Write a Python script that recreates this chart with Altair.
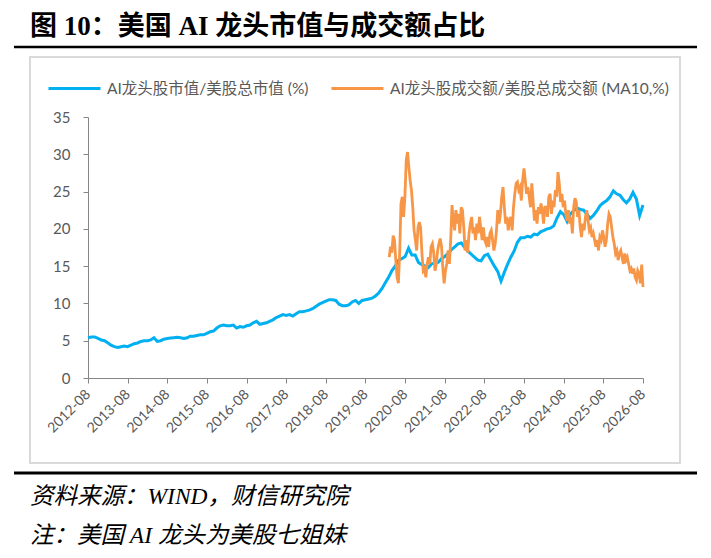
import altair as alt
import pandas as pd

TITLE = "图 10：美国 AI 龙头市值与成交额占比"
SOURCE = "资料来源：WIND，财信研究院"
NOTE = "注：美国 AI 龙头为美股七姐妹"
S_CAP = "AI龙头股市值/美股总市值 (%)"
S_VOL = "AI龙头股成交额/美股总成交额 (MA10,%)"

# monthly, 2012-08 .. 2026-08
cap_values = [
    5.4, 5.5, 5.5, 5.3, 5.1, 5.0, 4.7, 4.4, 4.2, 4.1, 4.2, 4.3, 4.2, 4.4, 4.6, 4.7,
    4.9, 5.0, 5.0, 5.1, 5.4, 4.9, 5.0, 5.2, 5.3, 5.35, 5.4, 5.45, 5.4, 5.3, 5.4, 5.6,
    5.6, 5.7, 5.8, 5.8, 6.0, 6.2, 6.3, 6.7, 7.0, 7.1, 7.0, 7.0, 7.1, 6.7, 6.9, 6.8,
    7.0, 7.1, 7.4, 7.6, 7.2, 7.3, 7.4, 7.6, 7.8, 8.1, 8.3, 8.5, 8.4, 8.5, 8.3, 8.6,
    8.9, 8.9, 9.0, 9.1, 9.3, 9.6, 9.9, 10.1, 10.3, 10.5, 10.5, 10.4, 9.9, 9.7, 9.7, 9.8,
    10.2, 10.4, 10.0, 10.4, 10.5, 10.6, 10.7, 11.0, 11.4, 12.0, 12.8, 13.5, 14.4, 15.0, 15.8, 16.0,
    16.3, 17.4, 16.5, 16.5, 15.5, 15.2, 15.0, 14.8, 15.3, 15.4, 15.5, 16.0, 16.3, 16.7, 17.2, 17.6,
    18.0, 18.1, 17.5, 17.0, 16.6, 16.2, 15.8, 15.7, 16.4, 16.6, 15.8, 15.0, 14.3, 13.0, 14.2, 15.2,
    16.2, 17.0, 18.2, 18.8, 18.8, 19.0, 18.9, 19.3, 19.2, 19.6, 19.8, 20.0, 20.1, 20.4, 21.5, 22.3,
    21.9, 21.0, 22.0, 22.4, 22.8, 22.6, 22.5, 22.0, 21.4, 21.8, 22.4, 23.1, 23.5, 23.8, 24.3, 25.1,
    24.7, 24.5, 23.9, 23.5, 24.0, 24.9, 24.0, 21.8, 23.2,
]

# 10-day moving average, roughly every 12 days, 2020-03 .. 2026-08
vol_values = [
    16.2, 17.6, 16.8, 19.1, 18.5, 15.8, 13.5, 12.7, 16.8, 23.4, 24.3, 21.6, 24.3, 29.2, 30.3, 28.3,
    26.5, 25.2, 22.9, 19.8, 18.5, 17.1, 20.2, 20.9, 20.2, 16.8, 14.4, 14.7, 13.5, 15.3, 16.2, 15.3,
    17.6, 18.0, 16.8, 14.4, 15.3, 17.1, 18.0, 18.7, 17.6, 14.7, 12.7, 14.4, 15.3, 17.1, 15.3, 18.5,
    23.2, 21.1, 19.8, 22.5, 20.7, 22.0, 19.4, 22.9,
    22.5, 20.2, 17.1, 18.5, 16.8, 19.4, 20.7, 21.6, 19.4, 20.2, 18.5, 20.7, 19.4, 21.6, 20.2, 18.5,
    20.2, 18.5, 18.0, 18.9, 17.6, 19.4, 19.8, 18.5, 17.1, 18.0, 19.8, 22.5, 20.7, 22.0, 24.3, 25.6,
    22.9, 20.7, 21.6, 19.8, 21.1, 21.6, 19.8, 22.9, 24.7, 26.1, 26.3, 25.2, 25.6, 23.8, 26.5, 28.1,
    26.5, 24.7, 25.6, 24.3, 22.9, 26.1, 23.8, 21.1, 22.5, 20.7, 22.9, 22.0, 23.4, 22.5, 20.7, 22.9,
    22.9, 21.6, 24.3, 24.7, 22.0, 23.8, 22.9, 25.2, 24.3, 27.6, 26.1, 23.6, 24.7, 22.9, 23.8, 22.0,
    21.1, 22.5, 20.7, 21.6, 19.4, 22.9, 24.1, 23.6, 21.6, 22.5, 20.2, 18.9, 20.7, 19.8, 21.6, 22.5,
    21.1, 19.8, 20.2, 18.9, 19.4, 18.5, 17.6, 18.5, 17.1, 18.9, 18.5, 19.8, 18.9, 17.6, 18.5, 20.7,
    22.0, 21.6, 20.2, 18.9, 18.0, 16.7, 17.1, 15.8, 16.7, 17.1, 16.2, 15.3, 16.7, 15.8, 16.2, 15.3,
    14.4, 14.7, 14.0, 14.7, 13.5, 13.1, 14.4, 14.0, 12.7, 15.2, 12.2,
]

tick_years = list(range(2012, 2027))
y_ticks = [0, 5, 10, 15, 20, 25, 30, 35]

cap_df = pd.DataFrame({
    "date": pd.date_range("2012-08-01", periods=len(cap_values), freq="MS"),
    "value": cap_values,
    "series": S_CAP,
})
vol_df = pd.DataFrame({
    "date": pd.date_range("2020-03-07", "2026-08-01", periods=len(vol_values)),
    "value": vol_values,
    "series": S_VOL,
})

BLUE = "#00B0F0"
ORANGE = "#F79646"
AXIS_GRAY = "#868686"
LABEL_GRAY = "#595959"
NUM_FONT = "Lato, Noto Sans CJK SC"
SERIF = "Liberation Serif, Noto Sans CJK SC"

x_enc = alt.X(
    "date:T",
    scale=alt.Scale(domain=[alt.DateTime(year=2012, month=8, date=1),
                            alt.DateTime(year=2026, month=8, date=1)]),
    axis=alt.Axis(
        title=None, grid=False,
        values=[alt.DateTime(year=y, month=8, date=1) for y in tick_years],
        format="%Y-%m", labelAngle=315, labelAlign="right", labelBaseline="middle",
        labelPadding=9, tickSize=5, labelFontSize=14, labelFont=NUM_FONT,
        labelColor=LABEL_GRAY, domainColor=AXIS_GRAY, tickColor=AXIS_GRAY,
        labelOverlap=False, labelFlush=False,
    ),
)
y_enc = alt.Y(
    "value:Q",
    scale=alt.Scale(domain=[0, 35], nice=False),
    axis=alt.Axis(
        title=None, grid=False, values=y_ticks, tickSize=5, labelPadding=13,
        labelFontSize=15, labelFont=NUM_FONT, labelColor=LABEL_GRAY,
        domainColor=AXIS_GRAY, tickColor=AXIS_GRAY,
    ),
)
color_enc = alt.Color(
    "series:N",
    scale=alt.Scale(domain=[S_CAP, S_VOL], range=[BLUE, ORANGE]),
    legend=alt.Legend(
        orient="none", legendX=-41, legendY=-56, direction="horizontal", title=None,
        symbolType="stroke", symbolSize=2704, symbolStrokeWidth=3,
        labelFont=NUM_FONT, labelFontSize=15.5, labelColor=LABEL_GRAY,
        labelOffset=5, columnPadding=16, labelLimit=400,
    ),
)

cap_line = alt.Chart(cap_df).mark_line(strokeWidth=3).encode(x=x_enc, y=y_enc, color=color_enc)
vol_line = alt.Chart(vol_df).mark_line(strokeWidth=2.8).encode(x=x_enc, y=y_enc, color=color_enc)

one = pd.DataFrame({"t": [""]})

frame = alt.Chart(one).mark_rect(fillOpacity=0, stroke="#D9D9D9", strokeWidth=2).encode(
    x=alt.value(-58), x2=alt.value(592), y=alt.value(-60), y2=alt.value(346))
top_rule = alt.Chart(one).mark_rule(color="black", strokeWidth=2.5).encode(
    x=alt.value(-74), x2=alt.value(609), y=alt.value(-70))
bottom_rule = alt.Chart(one).mark_rule(color="black", strokeWidth=3).encode(
    x=alt.value(-74), x2=alt.value(609), y=alt.value(356))

title_df = pd.DataFrame({"t": [TITLE]})
title = alt.Chart(title_df).mark_text(
    align="left", baseline="alphabetic", font=SERIF,
    fontSize=27, fontWeight="bold", color="black").encode(
    x=alt.value(-58), y=alt.value(-82), text="t:N")

src_df = pd.DataFrame({"t": [SOURCE]})
source = alt.Chart(src_df).mark_text(
    align="left", baseline="alphabetic", font=SERIF,
    fontSize=23.5, fontStyle="italic", color="black").encode(
    x=alt.value(-58), y=alt.value(387), text="t:N")

note_df = pd.DataFrame({"t": [NOTE]})
note = alt.Chart(note_df).mark_text(
    align="left", baseline="alphabetic", font=SERIF,
    fontSize=23.5, fontStyle="italic", color="black").encode(
    x=alt.value(-58), y=alt.value(426), text="t:N")

chart = alt.layer(frame, top_rule, bottom_rule, title, source, note, cap_line, vol_line).properties(
    width=555, height=261,
    autosize=alt.AutoSizeParams(type="none"),
    padding={"left": 80, "top": 109, "right": 60, "bottom": 172},
).configure_view(stroke=None)

chart.save("out.html", embed_options={"renderer": "svg", "actions": False})
